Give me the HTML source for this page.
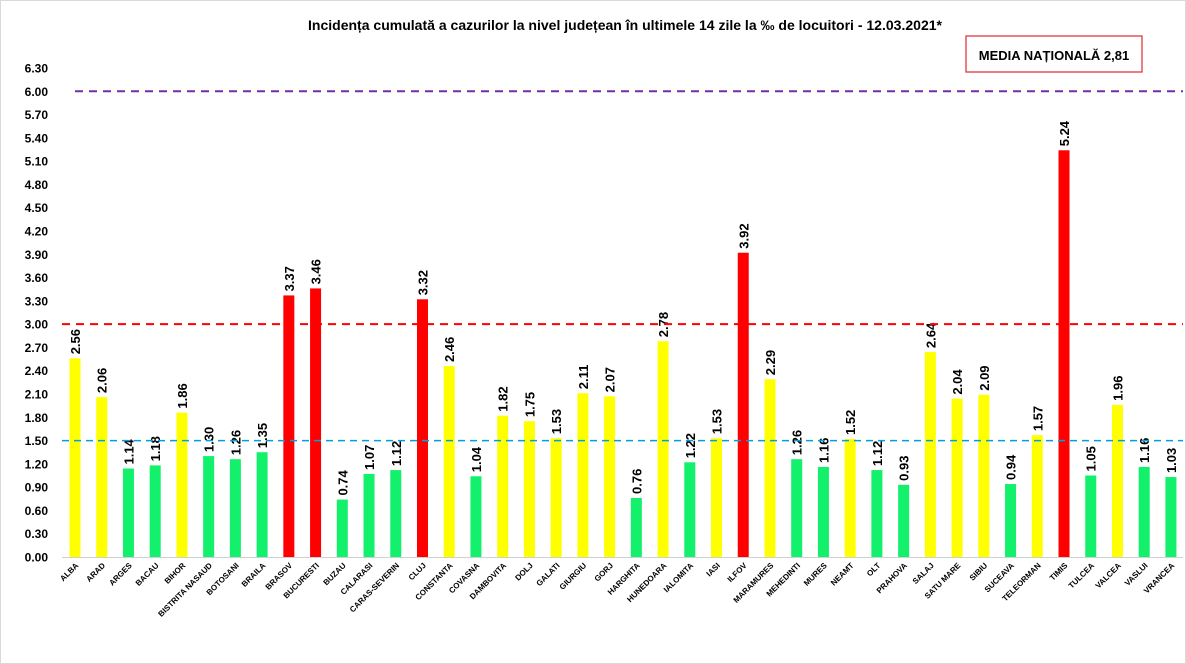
<!DOCTYPE html>
<html><head><meta charset="utf-8"><style>
html,body{margin:0;padding:0;background:#fff}
svg{display:block;font-family:"Liberation Sans",sans-serif}
</style></head><body>
<svg id="c" width="1186" height="664" xmlns="http://www.w3.org/2000/svg">
<rect x="0.5" y="0.5" width="1185" height="663" fill="#fff" stroke="#d9d9d9"/>
<text x="625" y="30" text-anchor="middle" font-size="14" font-weight="bold" fill="#000" textLength="634" lengthAdjust="spacingAndGlyphs">Incidența cumulată a cazurilor la nivel județean în ultimele 14 zile la ‰ de locuitori - 12.03.2021*</text>
<rect x="966" y="36" width="176" height="36" fill="#fff" stroke="#e0393e" stroke-width="1.3"/>
<text x="1054" y="60" text-anchor="middle" font-size="13" font-weight="bold" fill="#000">MEDIA NAȚIONALĂ  2,81</text>
<g id="g"></g>
</svg>
<script>
var names=["ALBA","ARAD","ARGES","BACAU","BIHOR","BISTRITA NASAUD","BOTOSANI","BRAILA","BRASOV","BUCURESTI","BUZAU","CALARASI","CARAS-SEVERIN","CLUJ","CONSTANTA","COVASNA","DAMBOVITA","DOLJ","GALATI","GIURGIU","GORJ","HARGHITA","HUNEDOARA","IALOMITA","IASI","ILFOV","MARAMURES","MEHEDINTI","MURES","NEAMT","OLT","PRAHOVA","SALAJ","SATU MARE","SIBIU","SUCEAVA","TELEORMAN","TIMIS","TULCEA","VALCEA","VASLUI","VRANCEA"];
var v=[2.56,2.06,1.14,1.18,1.86,1.30,1.26,1.35,3.37,3.46,0.74,1.07,1.12,3.32,2.46,1.04,1.82,1.75,1.53,2.11,2.07,0.76,2.78,1.22,1.53,3.92,2.29,1.26,1.16,1.52,1.12,0.93,2.64,2.04,2.09,0.94,1.57,5.24,1.05,1.96,1.16,1.03];
var s='';function Y(x){return 557-x*77.62;}
for(var i=0;i<=21;i++){var t=(i*0.3).toFixed(2);s+='<text x="48" y="'+(Y(i*0.3)+4.5)+'" text-anchor="end" font-size="12" font-weight="bold">'+t+'</text>';}
s+='<line x1="62" y1="557.5" x2="1183" y2="557.5" stroke="#d0d0d0"/>';
for(var i=0;i<42;i++){var cx=75+i*26.73,h=v[i]*77.62,c=v[i]>3?'#ff0000':(v[i]>=1.5?'#ffff00':'#13f06b');
s+='<rect x="'+(cx-5.5)+'" y="'+(557-h)+'" width="11" height="'+h+'" fill="'+c+'"/>';
var ty=557-h-4;s+='<text transform="translate('+(cx+5)+','+ty+') rotate(-90)" font-size="13" font-weight="bold">'+v[i].toFixed(2)+'</text>';
s+='<text transform="translate('+(cx+4)+',566) rotate(-45)" text-anchor="end" font-size="8" font-weight="bold">'+names[i]+'</text>';}
s+='<line x1="75" y1="'+Y(6)+'" x2="1183" y2="'+Y(6)+'" stroke="#7030a0" stroke-width="2" stroke-dasharray="8,6"/>';
s+='<line x1="62" y1="'+Y(3)+'" x2="1183" y2="'+Y(3)+'" stroke="#ff0000" stroke-width="2" stroke-dasharray="8,6"/>';
s+='<line x1="62" y1="'+Y(1.5)+'" x2="1183" y2="'+Y(1.5)+'" stroke="#00a0e0" stroke-width="1.5" stroke-dasharray="7,5"/>';
document.getElementById('g').innerHTML=s;
</script>
</body></html>
